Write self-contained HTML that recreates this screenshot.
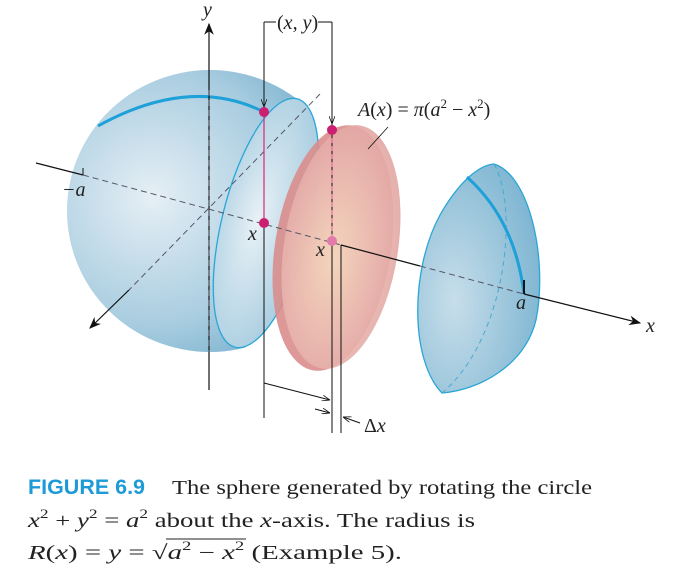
<!DOCTYPE html>
<html><head><meta charset="utf-8"><style>
body{margin:0;background:#fff;width:676px;height:576px;overflow:hidden}
svg{display:block}
.t{font-family:"Liberation Serif",serif;font-size:20px;fill:#222}
.i{font-style:italic}
</style></head><body>
<svg width="676" height="576" viewBox="0 0 676 576">
<defs>
<radialGradient id="gs" cx="0.3" cy="0.45" r="0.75"><stop offset="0" stop-color="#e6eff5"/><stop offset="0.6" stop-color="#a9cde0"/><stop offset="1" stop-color="#6aa8c8"/></radialGradient>
<radialGradient id="gc" cx="0.4" cy="0.5" r="0.7"><stop offset="0" stop-color="#e8f1f6"/><stop offset="1" stop-color="#9cc6dc"/></radialGradient>
<radialGradient id="gp" cx="0.45" cy="0.55" r="0.7"><stop offset="0" stop-color="#f6dcc0"/><stop offset="0.6" stop-color="#e8b4ae"/><stop offset="1" stop-color="#dd9a98"/></radialGradient>
<radialGradient id="gh" cx="0.3" cy="0.6" r="0.8"><stop offset="0" stop-color="#c7deea"/><stop offset="1" stop-color="#78b2d0"/></radialGradient>
<marker id="ar" markerWidth="10" markerHeight="8" refX="9" refY="4" orient="auto"><path d="M0,0 L10,4 L0,8 L3,4 z" fill="#111"/></marker>
<marker id="as" markerWidth="8" markerHeight="6" refX="8" refY="3" orient="auto"><path d="M0,0 L8,3 L0,6" fill="none" stroke="#111" stroke-width="0.8"/></marker>
<clipPath id="clipL"><path d="M0,0 L310,0 L305,99 L245,348 L230,576 L0,576 Z"/></clipPath>
</defs>
<g>
<ellipse cx="210" cy="211" rx="143" ry="141" fill="url(#gs)" clip-path="url(#clipL)"/>
<ellipse cx="266" cy="223" rx="44" ry="128" transform="rotate(14 266 223)" fill="url(#gc)" stroke="#29a6d6" stroke-width="1.3"/>
<path d="M98,126 Q190,75 264,112" fill="none" stroke="#1ea0d8" stroke-width="3"/>
</g>
<g>
<ellipse cx="333" cy="248" rx="58" ry="124" transform="rotate(9 333 248)" fill="#d98d8c" opacity="0.9"/>
<ellipse cx="341" cy="247" rx="57" ry="123" transform="rotate(9 341 247)" fill="url(#gp)" opacity="0.9"/>
</g>
<g>
<path d="M494,164 C530,175 548,260 536,320 C525,365 480,390 442,393 C410,360 410,270 440,215 C460,180 480,165 494,164 Z" fill="url(#gh)" stroke="#29a6d6" stroke-width="1.3"/>
<path d="M494,164 C520,210 505,340 442,393" fill="none" stroke="#4aa8d2" stroke-width="1" stroke-dasharray="5,4"/>
<path d="M467,177 Q515,220 524,294" fill="none" stroke="#1ea0d8" stroke-width="3"/>
</g>
<g stroke="#111" fill="none">
<line x1="209" y1="390" x2="209" y2="24" stroke-width="1.2" marker-end="url(#ar)"/>
<line x1="209" y1="90" x2="209" y2="352" stroke="#556" stroke-dasharray="6,4" stroke-width="1"/>
<line x1="36" y1="163" x2="83" y2="175" stroke-width="1.2"/>
<line x1="83" y1="175" x2="341" y2="245" stroke="#556" stroke-dasharray="6,4"/>
<line x1="341" y1="245" x2="420" y2="266" stroke-width="1.2"/>
<line x1="420" y1="266" x2="524" y2="294" stroke="#556" stroke-dasharray="6,4"/>
<line x1="524" y1="294" x2="640" y2="323" stroke-width="1.2" marker-end="url(#ar)"/>
<line x1="320" y1="94" x2="129" y2="290" stroke="#556" stroke-dasharray="6,4"/>
<line x1="129" y1="290" x2="90" y2="328" stroke-width="1.2" marker-end="url(#ar)"/>
<path d="M524,280 L524,294" stroke-width="2"/>
<path d="M83,168 L83,175" stroke-width="1"/>
<line x1="264" y1="22" x2="264" y2="418" stroke-width="1"/>
<line x1="332" y1="22" x2="332" y2="433" stroke-width="1"/>
<line x1="332" y1="130" x2="332" y2="241" stroke="#e05a9a" stroke-dasharray="5,3"/>
<line x1="341" y1="245" x2="341" y2="433" stroke-width="1"/>
<path d="M264,22 L276,22 M318,22 L332,22" stroke-width="1"/>
<line x1="264" y1="112" x2="264" y2="223" stroke="#d6287a" stroke-width="1.2"/>
<line x1="264" y1="30" x2="264" y2="107" marker-end="url(#as)"/>
<line x1="332" y1="30" x2="332" y2="124" marker-end="url(#as)"/>
<line x1="264" y1="383" x2="330" y2="400" marker-end="url(#as)"/>
<line x1="315" y1="409" x2="330" y2="413" marker-end="url(#as)"/>
<line x1="360" y1="423" x2="343" y2="417" marker-end="url(#as)"/>
<line x1="388" y1="127" x2="368" y2="149" stroke-width="0.8"/>
</g>
<g>
<circle cx="264" cy="112" r="5" fill="#cc1f72"/>
<circle cx="264" cy="223" r="5" fill="#cc1f72"/>
<circle cx="332" cy="130" r="5" fill="#cc1f72"/>
<circle cx="332" cy="241" r="5" fill="#e27aac"/>
</g>
<g>
<text class="t i" x="203" y="16">y</text>
<text class="t" x="277" y="29"><tspan>(</tspan><tspan class="i">x</tspan>, <tspan class="i">y</tspan>)</text>
<text class="t" x="358" y="116"><tspan class="i">A</tspan>(<tspan class="i">x</tspan>) = <tspan class="i">π</tspan>(<tspan class="i">a</tspan><tspan font-size="13" dy="-8">2</tspan><tspan dy="8"> − </tspan><tspan class="i">x</tspan><tspan font-size="13" dy="-8">2</tspan><tspan dy="8">)</tspan></text>
<text class="t i" x="62" y="196">−a</text>
<text class="t i" x="248" y="240">x</text>
<text class="t i" x="316" y="256">x</text>
<text class="t i" x="516" y="309">a</text>
<text class="t i" x="646" y="332">x</text>
<text class="t" x="364" y="432">Δ<tspan class="i">x</tspan></text>
</g>
<g>
<text x="28" y="494" font-family="Liberation Sans Narrow,Liberation Sans,sans-serif" font-weight="bold" font-size="21" fill="#1e9bd7" textLength="117" lengthAdjust="spacingAndGlyphs">FIGURE 6.9</text>
<text class="t" x="172" y="494" font-size="21" textLength="420" lengthAdjust="spacingAndGlyphs">The sphere generated by rotating the circle</text>
<text class="t" x="28" y="527" font-size="21" textLength="447" lengthAdjust="spacingAndGlyphs"><tspan class="i">x</tspan><tspan font-size="13" dy="-9">2</tspan><tspan dy="9"> + </tspan><tspan class="i">y</tspan><tspan font-size="13" dy="-9">2</tspan><tspan dy="9"> = </tspan><tspan class="i">a</tspan><tspan font-size="13" dy="-9">2</tspan><tspan dy="9"> about the </tspan><tspan class="i">x</tspan>-axis. The radius is</text>
<text class="t" x="28" y="559" font-size="21" textLength="374" lengthAdjust="spacingAndGlyphs"><tspan class="i">R</tspan>(<tspan class="i">x</tspan>) = <tspan class="i">y</tspan> = √<tspan class="i">a</tspan><tspan font-size="13" dy="-9">2</tspan><tspan dy="9"> − </tspan><tspan class="i">x</tspan><tspan font-size="13" dy="-9">2</tspan><tspan dy="9"> (Example 5).</tspan></text>
<line x1="166" y1="539" x2="246" y2="539" stroke="#222" stroke-width="1"/>
</g>
</svg>
</body></html>
